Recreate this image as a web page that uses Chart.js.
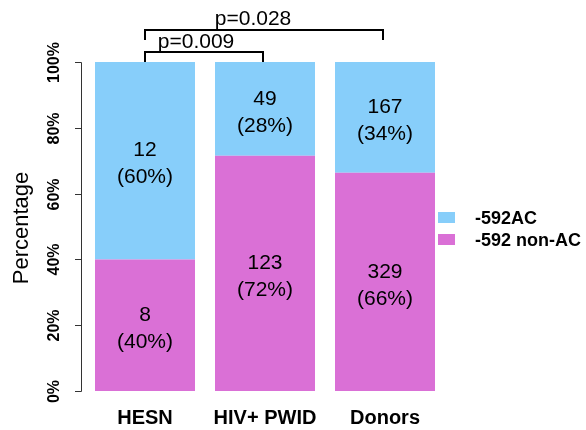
<!DOCTYPE html>
<html><head><meta charset="utf-8">
<script src="https://cdn.jsdelivr.net/npm/chart.js@4"></script>
<style>html,body{margin:0;padding:0;background:#fff}#wrap{width:586px;height:430px}</style>
</head><body><div id="wrap"><canvas id="c" width="586" height="430"></canvas></div>
<script>
const categories = ["HESN", "HIV+ PWID", "Donors"];
const nonAcCounts = [8, 123, 329];
const acCounts = [12, 49, 167];
const nonAcPct = [40, 71.5, 66.3];
const acPct = [60, 28.5, 33.7];
const nonAcPctLabels = ["40%", "72%", "66%"];
const acPctLabels = ["60%", "28%", "34%"];
const yTicks = [0, 20, 40, 60, 80, 100];
const seriesNames = ["-592 non-AC", "-592AC"];
const comparisons = [
  {from: 0, to: 1, label: "p=0.009"},
  {from: 0, to: 2, label: "p=0.028"}
];

const FONT = "'Liberation Sans', Arial, sans-serif";
const BLUE = "#87CEFA", PINK = "#DA70D6";

const drawPlugin = {
  id: 'custom',
  afterDatasetsDraw(chart) {
    const ctx = chart.ctx, xs = chart.scales.x, ys = chart.scales.y;
    ctx.save();
    // bar labels
    ctx.fillStyle = "#000";
    ctx.font = "21px " + FONT;
    ctx.textAlign = "center"; ctx.textBaseline = "middle";
    chart.data.datasets.forEach((ds, di) => {
      const meta = chart.getDatasetMeta(di);
      meta.data.forEach((bar, i) => {
        const cy = (bar.y + bar.base) / 2;
        ctx.fillText(String(ds.counts[i]), bar.x, cy - 10);
        ctx.fillText("(" + ds.pctLabels[i] + ")", bar.x, cy + 17);
      });
    });
    // y axis
    const axX = 81;
    ctx.strokeStyle = "#333"; ctx.lineWidth = 1;
    ctx.beginPath();
    ctx.moveTo(axX + 0.5, Math.round(ys.getPixelForValue(0)) + 0.5);
    ctx.lineTo(axX + 0.5, Math.round(ys.getPixelForValue(100)) + 0.5);
    ctx.stroke();
    ctx.font = "bold 16px " + FONT;
    yTicks.forEach(t => {
      const y = Math.round(ys.getPixelForValue(t)) + 0.5;
      ctx.beginPath(); ctx.moveTo(axX - 6, y); ctx.lineTo(axX + 0.5, y); ctx.stroke();
      ctx.save(); ctx.translate(55, y); ctx.rotate(-Math.PI / 2);
      ctx.textAlign = "center"; ctx.textBaseline = "middle";
      ctx.fillText(t + "%", 0, 0); ctx.restore();
    });
    // y title
    ctx.save(); ctx.translate(22, 228); ctx.rotate(-Math.PI / 2);
    ctx.font = "22px " + FONT; ctx.textAlign = "center"; ctx.textBaseline = "middle";
    ctx.fillText("Percentage", 0, 0); ctx.restore();
    // x labels
    ctx.font = "bold 20px " + FONT;
    categories.forEach((c, i) => {
      ctx.fillText(c, xs.getPixelForValue(i), 418);
    });
    // brackets
    ctx.lineWidth = 2; ctx.strokeStyle = "#000";
    ctx.font = "21px " + FONT;
    const top100 = ys.getPixelForValue(100);
    comparisons.forEach((cmp, k) => {
      const x1 = xs.getPixelForValue(cmp.from), x2 = xs.getPixelForValue(cmp.to) - 2;
      const yb = top100 - 10 - k * 22, yl = yb + 10;
      ctx.beginPath();
      ctx.moveTo(x1, yl); ctx.lineTo(x1, yb); ctx.lineTo(x2, yb); ctx.lineTo(x2, yl);
      ctx.stroke();
      ctx.fillText(cmp.label, (x1 + x2) / 2 - 8 - k * 3, yb - 10 - k);
    });
    // legend
    ctx.font = "bold 18px " + FONT; ctx.textAlign = "left";
    const leg = [{c: BLUE, t: seriesNames[1], y: 218}, {c: PINK, t: seriesNames[0], y: 240}];
    leg.forEach(l => {
      ctx.fillStyle = l.c; ctx.fillRect(438, l.y - 6, 17, 11);
      ctx.fillStyle = "#000"; ctx.fillText(l.t, 475, l.y + 1);
    });
    ctx.restore();
  }
};

new Chart(document.getElementById('c'), {
  type: 'bar',
  data: {
    labels: categories,
    datasets: [
      {label: seriesNames[0], data: nonAcPct, counts: nonAcCounts, pctLabels: nonAcPctLabels, backgroundColor: PINK, borderWidth: 0},
      {label: seriesNames[1], data: acPct, counts: acCounts, pctLabels: acPctLabels, backgroundColor: BLUE, borderWidth: 0}
    ]
  },
  options: {
    responsive: false, animation: false,
    layout: {padding: {left: 85, right: 141, top: 62, bottom: 39}},
    plugins: {legend: {display: false}, tooltip: {enabled: false}},
    datasets: {bar: {categoryPercentage: 1, barPercentage: 100 / 120}},
    scales: {
      x: {stacked: true, display: false},
      y: {stacked: true, display: false, min: 0, max: 100}
    }
  },
  plugins: [drawPlugin]
});
</script></body></html>
